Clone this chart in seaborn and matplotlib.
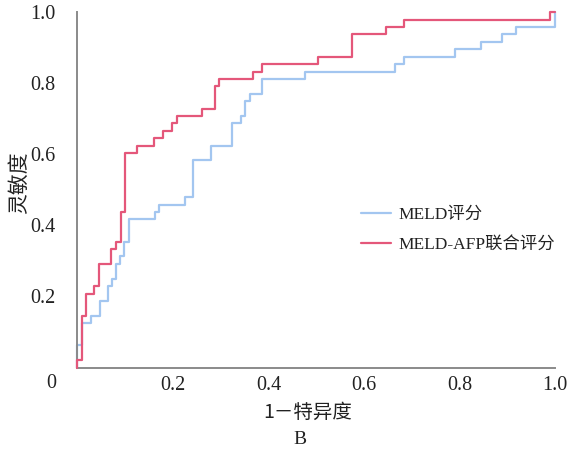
import matplotlib
matplotlib.use("Agg")
import matplotlib.pyplot as plt
from matplotlib.lines import Line2D
import seaborn as sns
import pandas as pd

# ---- data ----
meld_fpr = [0.0, 0.0, 0.010, 0.029, 0.047, 0.064, 0.073, 0.082, 0.090, 0.098,
            0.108, 0.162, 0.171, 0.226, 0.243, 0.279, 0.324, 0.342, 0.351,
            0.361, 0.387, 0.476, 0.666, 0.684, 0.791, 0.846, 0.890, 0.918, 1.0]
meld_tpr = [0.0, 0.063, 0.125, 0.146, 0.188, 0.229, 0.250, 0.292, 0.313, 0.354,
            0.417, 0.438, 0.458, 0.479, 0.583, 0.625, 0.688, 0.708, 0.750,
            0.771, 0.813, 0.833, 0.854, 0.875, 0.896, 0.917, 0.938, 0.958, 1.0]

combo_fpr = [0.0, 0.0, 0.010, 0.018, 0.036, 0.045, 0.071, 0.081, 0.091, 0.100,
             0.126, 0.161, 0.180, 0.199, 0.208, 0.262, 0.288, 0.296, 0.368,
             0.387, 0.504, 0.575, 0.647, 0.683, 0.989, 1.0]
combo_tpr = [0.0, 0.021, 0.146, 0.208, 0.229, 0.292, 0.333, 0.354, 0.438, 0.604,
             0.625, 0.646, 0.667, 0.688, 0.708, 0.729, 0.792, 0.813, 0.833,
             0.854, 0.875, 0.938, 0.958, 0.979, 1.0, 1.0]

series_names = ["MELD评分", "MELD-AFP联合评分"]
series_colors = ["#a3c6f0", "#e4577a"]

x_ticks = [0.2, 0.4, 0.6, 0.8, 1.0]
x_tick_labels = ["0.2", "0.4", "0.6", "0.8", "1.0"]
y_ticks = [0.2, 0.4, 0.6, 0.8, 1.0]
y_tick_labels = ["0.2", "0.4", "0.6", "0.8", "1.0"]
origin_label = "0"
x_label = "1－特异度"
y_label = "灵敏度"
panel_label = "B"

# ---- build table ----
df = pd.concat([
    pd.DataFrame({"fpr": meld_fpr, "tpr": meld_tpr, "model": series_names[0]}),
    pd.DataFrame({"fpr": combo_fpr, "tpr": combo_tpr, "model": series_names[1]}),
], ignore_index=True)

sns.set_style("white")
plt.rcParams["font.family"] = ["Noto Sans CJK SC", "DejaVu Sans"]
serif_mix = ["Liberation Serif", "Noto Sans CJK SC"]
txt_col = "#222222"
fs_tick = 14.5
fs_leg = 12.5

W, H = 572, 450
fig = plt.figure(figsize=(W / 100, H / 100), dpi=100)
left, right, top, bottom = 77.3, 555.0, 12.3, 367.5
ax = fig.add_axes([left / W, 1 - bottom / H, (right - left) / W, (bottom - top) / H])

palette = dict(zip(series_names, series_colors))
sns.lineplot(data=df, x="fpr", y="tpr", hue="model", palette=palette,
             hue_order=series_names, sort=False, estimator=None,
             drawstyle="steps-post", linewidth=1.6, legend=False, ax=ax)
for ln in ax.get_lines():
    ln.set_clip_on(False)
ax.get_lines()[1].set_zorder(3)

ax.set_xlim(0, 1.0)
ax.set_ylim(0, 1.0)

spine_col = "#8a8a8a"
for s in ["top", "right"]:
    ax.spines[s].set_visible(False)
for s in ["left", "bottom"]:
    ax.spines[s].set_color(spine_col)
    ax.spines[s].set_linewidth(1.4)

ax.set_xticks(x_ticks)
ax.set_xticklabels(x_tick_labels, fontfamily=serif_mix, fontsize=fs_tick, color=txt_col)
ax.set_yticks(y_ticks)
ax.set_yticklabels(y_tick_labels, fontfamily=serif_mix, fontsize=fs_tick, color=txt_col)
ax.tick_params(axis="both", direction="in", length=4, width=1.2, color=spine_col)
ax.tick_params(axis="y", pad=16)
ax.tick_params(axis="x", pad=6)
ax.set_xlabel("")
ax.set_ylabel("")

fig.text(51 / W, 1 - 384 / H, origin_label, ha="center", va="center",
         fontfamily=serif_mix, fontsize=fs_tick, color=txt_col)
fig.text(308 / W, 1 - 412 / H, x_label, ha="center", va="center",
         fontsize=14, color=txt_col)
fig.text(300 / W, 1 - 439 / H, panel_label, ha="center", va="center",
         fontfamily=serif_mix, fontsize=14, color=txt_col)
fig.text(19 / W, 1 - 183 / H, y_label, ha="center", va="center",
         rotation=90, fontsize=15, color=txt_col)

handles = [Line2D([], [], color=c, lw=1.6) for c in series_colors]
leg = ax.legend(handles, series_names, loc="upper left",
                bbox_to_anchor=(361 / W, 1 - 207 / H), bbox_transform=fig.transFigure,
                frameon=False, handlelength=1.7, handletextpad=0.45,
                labelspacing=0.8, borderaxespad=0, borderpad=0,
                prop={"family": serif_mix, "size": fs_leg})
for t in leg.get_texts():
    t.set_color(txt_col)

fig.savefig("out.png", dpi=100)
